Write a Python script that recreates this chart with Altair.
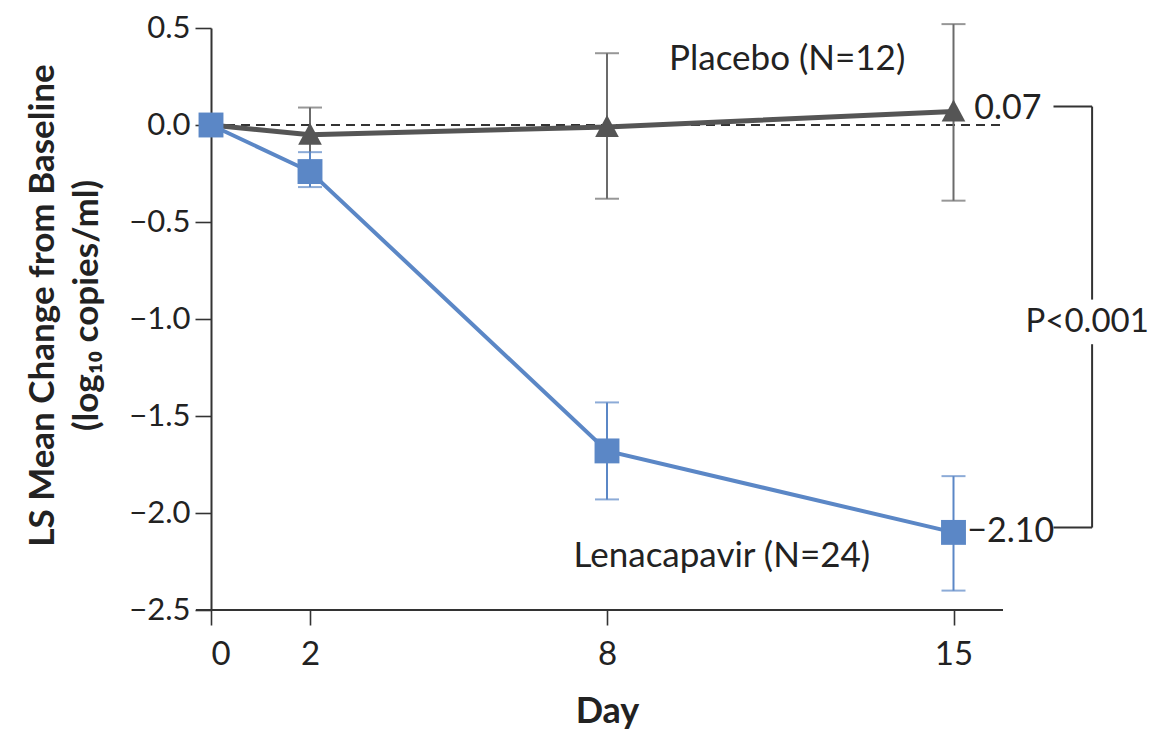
import altair as alt
import pandas as pd

# ---- data ----
days = [0, 2, 8, 15]
placebo_mean = [0.0, -0.05, -0.01, 0.07]
placebo_lo = [None, -0.19, -0.38, -0.39]
placebo_hi = [None, 0.09, 0.37, 0.52]
lena_mean = [0.0, -0.24, -1.68, -2.10]
lena_lo = [None, -0.32, -1.93, -2.40]
lena_hi = [None, -0.14, -1.43, -1.81]

x_ticks = [0, 2, 8, 15]
y_ticks = [0.5, 0.0, -0.5, -1.0, -1.5, -2.0, -2.5]

placebo_label = "Placebo (N=12)"
lena_label = "Lenacapavir (N=24)"
p_label = "P<0.001"

FONT = "Lato"
GRAY = "#555555"
GRAY_ERR = "#6b6b6b"
BLUE = "#5b87c6"
TXT = "#222222"

W, H = 792, 582

pl = pd.DataFrame({"day": days, "mean": placebo_mean, "lo": placebo_lo, "hi": placebo_hi})
le = pd.DataFrame({"day": days, "mean": lena_mean, "lo": lena_lo, "hi": lena_hi})
pl_err = pl.dropna()
le_err = le.dropna()

xs = alt.Scale(domain=[0, 16], nice=False, zero=False)
ys = alt.Scale(domain=[-2.5, 0.5], nice=False, zero=False)

X = alt.X("day:Q", scale=xs, axis=alt.Axis(
    values=x_ticks, format="d", title="Day", domain=False,
    tickSize=15, tickWidth=1.6, tickColor="#333",
    labelFontSize=33, labelFont=FONT, labelColor=TXT, labelPadding=13,
    titleFontSize=36, titleFont=FONT, titleFontWeight="bold", titleColor=TXT,
    titleBaseline="alphabetic", titleY=112, grid=False))
Y = alt.Y("mean:Q", scale=ys, axis=alt.Axis(
    values=y_ticks, format=".1f",
    title=["LS Mean Change from Baseline", "(log\u2081\u2080 copies/ml)"],
    domainWidth=2, domainColor="#333",
    tickSize=16, tickWidth=1.6, tickColor="#333",
    labelFontSize=31, labelFont=FONT, labelColor=TXT, labelPadding=5,
    titleFontSize=35, titleFont=FONT, titleFontWeight="bold", titleColor=TXT,
    titleAngle=-90, titleAlign="center", titleBaseline="top",
    titleX=-186, titleY=H / 2 - 14, titleLineHeight=44, grid=False))

base_pl = alt.Chart(pl)
base_le = alt.Chart(le)

# axis line (x) extended slightly left of the y axis
x_axis_line = alt.Chart(pl).mark_rule(color="#333", strokeWidth=2).encode(
    x=alt.datum(-0.3, scale=xs), x2=alt.datum(16), y=alt.datum(-2.5, scale=ys))

zero_line = alt.Chart(pl).mark_rule(color="#333", strokeWidth=1.8, strokeDash=[9, 6]).encode(
    x=alt.datum(0), x2=alt.datum(16), y=alt.datum(0))

def err_layers(df, color, width):
    c = alt.Chart(df)
    bar = c.mark_rule(color=color, strokeWidth=width).encode(
        x=alt.X("day:Q", scale=xs), y=alt.Y("lo:Q", scale=ys), y2="hi:Q")
    cap_lo = c.mark_tick(color=color, orient="horizontal", size=24, thickness=width).encode(
        x=alt.X("day:Q", scale=xs), y=alt.Y("lo:Q", scale=ys))
    cap_hi = c.mark_tick(color=color, orient="horizontal", size=24, thickness=width).encode(
        x=alt.X("day:Q", scale=xs), y=alt.Y("hi:Q", scale=ys))
    return bar + cap_lo + cap_hi

pl_err_l = err_layers(pl_err, GRAY_ERR, 2)
le_err_l = err_layers(le_err, BLUE, 2)

pl_line = base_pl.mark_line(color=GRAY, strokeWidth=5).encode(x=X, y=Y)
pl_pts = base_pl.mark_point(shape="M0,-1L1,0.85L-1,0.85Z", filled=True, size=560,
                            color=GRAY, opacity=1).encode(x="day:Q", y="mean:Q")
le_line = base_le.mark_line(color=BLUE, strokeWidth=4).encode(x="day:Q", y="mean:Q")
le_pts = base_le.mark_point(shape="square", filled=True, size=620,
                            color=BLUE, opacity=1).encode(x="day:Q", y="mean:Q")

# annotations
fmt = lambda v: f"{v:.2f}".replace("-", "\u2212")
last_pl = placebo_mean[-1]
last_le = lena_mean[-1]
ann = pd.DataFrame({
    "x": [15.42, 15.28, 11.64, 10.32, 17.7],
    "y": [last_pl + 0.01, last_le, 0.34, -2.22, (last_pl + last_le) / 2],
    "t": [fmt(last_pl), fmt(last_le), placebo_label, lena_label, p_label],
    "size": [34, 34, 35, 35, 33],
    "align": ["left", "left", "center", "center", "center"],
})
ann_left = alt.Chart(ann[ann["align"] == "left"]).mark_text(
    font=FONT, fontSize=34, color=TXT, align="left", baseline="middle").encode(
    x="x:Q", y="y:Q", text="t:N")
ann_center = alt.Chart(ann[ann["align"] == "center"]).mark_text(
    font=FONT, color=TXT, align="center", baseline="middle").encode(
    x="x:Q", y="y:Q", text="t:N",
    size=alt.Size("size:Q", scale=None, legend=None))

# bracket between the two final values
top_y = last_pl + 0.025
bot_y = last_le + 0.025
mid_y = (last_pl + last_le) / 2
gap = 0.115
bracket = pd.DataFrame({
    "x": [17.02, 17.8, 17.8, 17.02],
    "x2": [17.8, 17.8, 17.8, 17.8],
    "y": [top_y, top_y, mid_y - gap, bot_y],
    "y2": [top_y, mid_y + gap, bot_y, bot_y],
})
bracket_l = alt.Chart(bracket).mark_rule(color="#333", strokeWidth=2).encode(
    x="x:Q", x2="x2:Q", y="y:Q", y2="y2:Q")

chart = alt.layer(
    zero_line, x_axis_line,
    pl_err_l, pl_line, pl_pts,
    le_err_l, le_line, le_pts,
    ann_left, ann_center, bracket_l,
).resolve_scale(x="shared", y="shared").properties(
    width=W, height=H,
    autosize=alt.AutoSizeParams(type="none"),
    padding={"left": 203, "top": 20, "right": 146, "bottom": 120},
    background="white",
).configure_view(stroke=None)

chart.save("out.html", embed_options={"renderer": "svg", "actions": False})
